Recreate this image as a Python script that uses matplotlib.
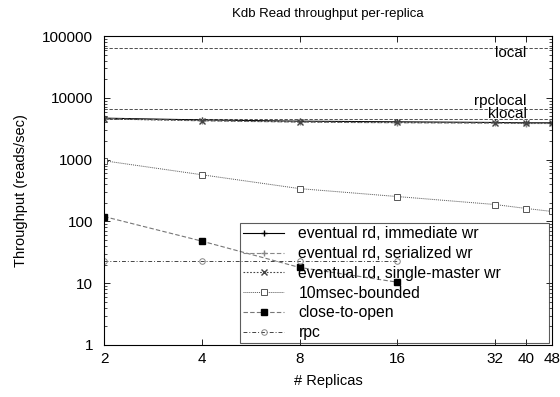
import matplotlib
matplotlib.use('Agg')
import matplotlib.pyplot as plt
import numpy as np

plt.rcParams['font.family'] = ['Liberation Sans', 'DejaVu Sans']

replicas = [2, 4, 8, 16, 32, 40, 48]
ev_immediate = [4700, 4400, 4200, 4100, 4000, 3950, 3950]
ev_serialized = [4600, 4250, 4050, 3950, 3900, 3850, 3850]
ev_single = [4550, 4300, 4100, 4000, 3950, 3900, 3900]
bounded = [960, 570, 340, 253, 188, 162, 145]
cto_x = [2, 4, 8, 16]
cto = [120, 48, 18, 10.4]
rpc_x = [2, 4, 8, 16]
rpc = [23, 23, 23, 23]

ref_names = ['local', 'rpclocal', 'klocal']
ref_values = [63400, 6600, 4520]
ref_label_y = [53000, 8900, 5500]

fig = plt.figure(figsize=(5.6, 3.97), dpi=100)
ax = fig.add_axes([0.186, 0.131, 0.8, 0.778])

for v in ref_values:
    ax.axhline(v, color='#333333', lw=0.6, ls=(0, (4, 2)))
for name, y in zip(ref_names, ref_label_y):
    ax.text(40, y, name, ha='right', va='center', fontsize=11)

ax.plot(replicas, ev_immediate, color='black', lw=0.8, marker='+', ms=5,
        label='eventual rd, immediate wr')
ax.plot(replicas, ev_serialized, color='#888888', lw=0.8, ls=(0, (4, 2)),
        marker='+', ms=5, label='eventual rd, serialized wr')
ax.plot(replicas, ev_single, color='#444444', lw=0.8, ls=(0, (1.5, 1.5)),
        marker='x', ms=4, label='eventual rd, single-master wr')
ax.plot(replicas, bounded, color='#555555', lw=0.7, ls=(0, (1, 1)),
        marker='s', ms=4, mfc='white', mec='#555555', mew=0.7,
        label='10msec-bounded')
ax.plot(cto_x, cto, color='#777777', lw=0.8, ls=(0, (4, 2)),
        marker='s', ms=4, mfc='black', mec='black',
        label='close-to-open')
ax.plot(rpc_x, rpc, color='#444444', lw=0.7, ls=(0, (4, 2, 1, 2)),
        marker='o', ms=4, mfc='none', mec='#888888', mew=0.7,
        label='rpc')

ax.set_xscale('log', base=2)
ax.set_yscale('log')
ax.set_xlim(2, 48)
ax.set_ylim(1, 100000)
ax.set_xticks([2, 4, 8, 16, 32, 40, 48])
ax.set_xticklabels(['2', '4', '8', '16', '32', '40', '48'])
ax.xaxis.set_minor_locator(matplotlib.ticker.NullLocator())
ax.set_yticks([1, 10, 100, 1000, 10000, 100000])
ax.set_yticklabels(['1', '10', '100', '1000', '10000', '100000'])
ax.tick_params(which='both', direction='in', top=True, right=True, labelsize=11)
ax.tick_params(which='major', length=4, width=0.6)
ax.tick_params(which='minor', length=2, width=0.5)
ax.tick_params(axis='x', pad=5)
ax.tick_params(axis='y', pad=8)
for s in ax.spines.values():
    s.set_linewidth(0.8)

ax.set_title('Kdb Read throughput per-replica', fontsize=9.5, pad=14)
ax.set_xlabel('# Replicas', fontsize=10.5, labelpad=6)
ax.set_ylabel('Throughput (reads/sec)', fontsize=10.5, labelpad=10)

leg = ax.legend(loc='lower left', bbox_to_anchor=(0.304, 0.006, 0.69, 0.38),
                mode='expand', fontsize=11.3, frameon=True, fancybox=False,
                edgecolor='#333333', facecolor='none', framealpha=None,
                borderpad=0.2, labelspacing=0.3, handlelength=2.6,
                handletextpad=0.9, borderaxespad=0)
leg.get_frame().set_linewidth(0.8)

fig.savefig('out.png', dpi=100)
